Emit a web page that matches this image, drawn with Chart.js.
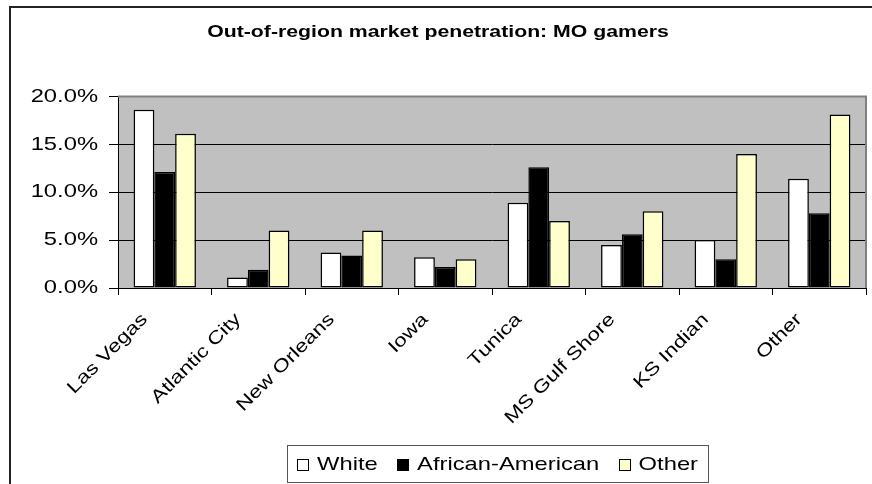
<!DOCTYPE html>
<html>
<head>
<meta charset="utf-8">
<script src="https://cdn.jsdelivr.net/npm/chart.js@4.4.1/dist/chart.umd.min.js"></script>
<style>
  html, body { margin: 0; padding: 0; background: #ffffff; }
  #wrap { width: 872px; height: 484px; position: relative; }
</style>
</head>
<body>
<div id="wrap"><canvas id="c" width="872" height="484"></canvas></div>
<script>
const categories = ["Las Vegas", "Atlantic City", "New Orleans", "Iowa", "Tunica", "MS Gulf Shore", "KS Indian", "Other"];
const seriesNames = ["White", "African-American", "Other"];
const whiteValues = [18.6, 1.1, 3.7, 3.2, 8.9, 4.5, 5.0, 11.4];
const africanAmericanValues = [12.1, 1.9, 3.4, 2.2, 12.6, 5.6, 3.0, 7.8];
const otherValues = [16.1, 6.0, 6.0, 3.0, 7.0, 8.0, 14.0, 18.1];
const yTickValues = [0, 5, 10, 15, 20];
const titleText = "Out-of-region market penetration: MO gamers";

const FONT = "'Liberation Sans', Arial, sans-serif";
const SX = 1.25; // horizontal text stretch seen in the reference

const canvas = document.getElementById('c');
const c2d = canvas.getContext('2d');
const origFillText = c2d.fillText.bind(c2d);
c2d.fillText = function (text, x, y) {
  this.save();
  this.translate(x, y);
  this.scale(SX, 1);
  origFillText(text, 0, 0);
  this.restore();
};

const chartDecor = {
  id: 'chartDecor',
  beforeDraw(chart) {
    const ctx = chart.ctx;
    const a = chart.chartArea;
    ctx.save();
    ctx.fillStyle = '#ffffff';
    ctx.fillRect(0, 0, chart.width, chart.height);
    ctx.strokeStyle = '#222222';
    ctx.lineWidth = 2;
    ctx.strokeRect(10, 7, 900, 600);
    ctx.fillStyle = '#C0C0C0';
    ctx.fillRect(a.left, a.top, a.right - a.left, a.bottom - a.top);
    ctx.restore();
  },
  afterDatasetsDraw(chart) {
    const ctx = chart.ctx;
    const a = chart.chartArea;
    ctx.save();
    ctx.strokeStyle = '#808080';
    ctx.lineWidth = 2;
    ctx.beginPath();
    ctx.moveTo(a.left, a.top);
    ctx.lineTo(a.right, a.top);
    ctx.lineTo(a.right, a.bottom);
    ctx.stroke();
    ctx.restore();
  },
  afterDraw(chart) {
    const ctx = chart.ctx;
    ctx.save();
    ctx.font = "19px " + FONT;
    const box = 11, gapBoxText = 9, padX = 10;
    const left = 287, right = 708;
    const top = 445, bottom = 482;
    const items = chart.data.datasets.map(d => ({ label: d.label, color: d.backgroundColor, w: ctx.measureText(d.label).width * SX }));
    let used = padX * 2;
    items.forEach(it => { used += box + gapBoxText + it.w; });
    const gapItems = Math.max(8, (right - left - used) / (items.length - 1));
    ctx.fillStyle = '#ffffff';
    ctx.fillRect(left, top, right - left, bottom - top);
    ctx.strokeStyle = '#555555';
    ctx.lineWidth = 1;
    ctx.strokeRect(left + 0.5, top + 0.5, right - left, bottom - top);
    let x = left + padX;
    const cy = (top + bottom) / 2 + 1;
    items.forEach(it => {
      ctx.fillStyle = it.color;
      ctx.fillRect(Math.round(x), Math.round(cy - box / 2), box, box);
      ctx.strokeStyle = '#000000';
      ctx.lineWidth = 1;
      ctx.strokeRect(Math.round(x) + 0.5, Math.round(cy - box / 2) + 0.5, box, box);
      x += box + gapBoxText;
      ctx.fillStyle = '#000000';
      ctx.textBaseline = 'middle';
      ctx.textAlign = 'left';
      ctx.fillText(it.label, x, cy);
      x += it.w + gapItems;
    });
    ctx.restore();
  }
};

new Chart(canvas, {
  type: 'bar',
  data: {
    labels: categories,
    datasets: [
      { label: seriesNames[0], data: whiteValues, backgroundColor: '#FFFFFF' },
      { label: seriesNames[1], data: africanAmericanValues, backgroundColor: '#000000' },
      { label: seriesNames[2], data: otherValues, backgroundColor: '#FFFFCC' }
    ].map(d => Object.assign(d, { borderColor: '#000000', borderWidth: 1.5, borderSkipped: false, categoryPercentage: 0.667, barPercentage: 1.0 }))
  },
  options: {
    responsive: false,
    animation: false,
    devicePixelRatio: 1,
    layout: { padding: { left: 10, right: 6, top: 8, bottom: 40 } },
    plugins: {
      legend: { display: false },
      tooltip: { enabled: false },
      title: {
        display: true,
        text: titleText,
        color: '#000000',
        font: { family: FONT, size: 17, weight: 'bold' },
        padding: { top: 14, bottom: 54 }
      }
    },
    scales: {
      x: {
        offset: true,
        grid: { offset: true, drawOnChartArea: false, drawTicks: true, tickLength: 7, color: '#000000', lineWidth: 1 },
        border: { display: true, color: '#000000', width: 1 },
        ticks: { color: '#000000', font: { family: FONT, size: 18 }, minRotation: 45, maxRotation: 45, padding: 14, labelOffset: -20, autoSkip: false },
        afterFit(scale) { scale.height = 156; }
      },
      y: {
        min: 0,
        max: 20,
        afterBuildTicks(scale) { scale.ticks = yTickValues.map(v => ({ value: v })); },
        grid: {
          color: ctx => (ctx.tick && ctx.tick.value === 20) ? 'rgba(0,0,0,0)' : '#000000',
          tickColor: '#000000',
          lineWidth: 1,
          drawTicks: true,
          tickLength: 9
        },
        border: { display: true, color: '#000000', width: 1 },
        ticks: {
          color: '#000000',
          font: { family: FONT, size: 19 },
          padding: 11,
          callback: v => v.toFixed(1) + '%'
        },
        afterFit(scale) { scale.width = 108; }
      }
    }
  },
  plugins: [chartDecor]
});
</script>
</body>
</html>
